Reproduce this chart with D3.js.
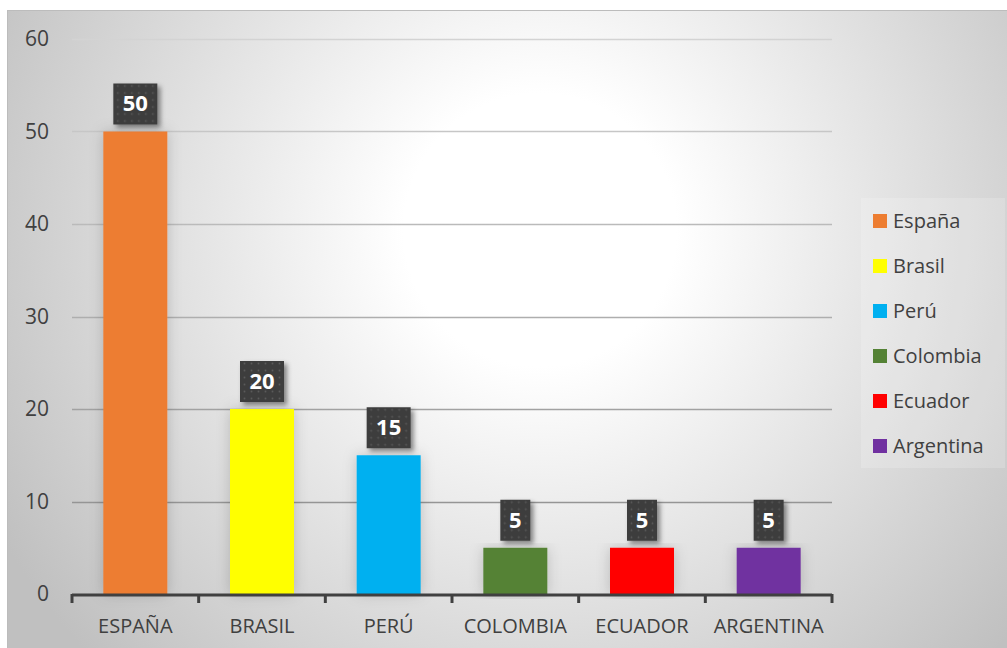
<!DOCTYPE html>
<html>
<head>
<meta charset="utf-8">
<script src="https://cdn.jsdelivr.net/npm/d3@7"></script>
<style>
  body { margin: 0; background: #fff; }
  svg { display: block; font-family: "Open Sans", sans-serif; }
</style>
</head>
<body>
<svg id="chart" width="1007" height="648"></svg>
<script>
// datos del grafico
var paises = ["ESPAÑA", "BRASIL", "PERÚ", "COLOMBIA", "ECUADOR", "ARGENTINA"];
var leyenda = ["España", "Brasil", "Perú", "Colombia", "Ecuador", "Argentina"];
var valores = [50, 20, 15, 5, 5, 5];
var colores = ["#ed7d31", "#ffff00", "#00b0f0", "#548235", "#ff0000", "#7030a0"];
var ticksY = [0, 10, 20, 30, 40, 50, 60];

var svg = d3.select("#chart");
var defs = svg.append("defs");

// fondo con degradado radial
var rg = defs.append("radialGradient").attr("id", "fondo")
  .attr("gradientUnits", "userSpaceOnUse")
  .attr("cx", 540).attr("cy", 230).attr("r", 620);
rg.append("stop").attr("offset", "0").attr("stop-color", "#ffffff");
rg.append("stop").attr("offset", "0.22").attr("stop-color", "#ffffff");
rg.append("stop").attr("offset", "1").attr("stop-color", "#c0c0c0");

// lineas de cuadricula mas oscuras abajo
var lg = defs.append("linearGradient").attr("id", "grid")
  .attr("gradientUnits", "userSpaceOnUse")
  .attr("x1", 0).attr("y1", 30).attr("x2", 0).attr("y2", 600);
lg.append("stop").attr("offset", "0").attr("stop-color", "#d4d4d4");
lg.append("stop").attr("offset", "1").attr("stop-color", "#888888");

// patron de puntos para las etiquetas
var pat = defs.append("pattern").attr("id", "puntos")
  .attr("patternUnits", "userSpaceOnUse").attr("width", 7).attr("height", 7);
pat.append("rect").attr("width", 7).attr("height", 7).attr("fill", "#3d3d3d");
pat.append("circle").attr("cx", 3.5).attr("cy", 3.5).attr("r", 0.9).attr("fill", "#5a5a5a");

var sombra = defs.append("filter").attr("id", "sombra")
  .attr("x", "-30%").attr("y", "-30%").attr("width", "160%").attr("height", "160%");
sombra.append("feDropShadow").attr("dx", 3).attr("dy", 3).attr("stdDeviation", 2.5)
  .attr("flood-color", "#000").attr("flood-opacity", 0.45);

var brillo = defs.append("filter").attr("id", "brillo")
  .attr("x", "-40%").attr("y", "-10%").attr("width", "180%").attr("height", "120%");
brillo.append("feDropShadow").attr("dx", 0).attr("dy", 0).attr("stdDeviation", 7)
  .attr("flood-color", "#000").attr("flood-opacity", 0.18);

svg.append("rect")
  .attr("x", 7.5).attr("y", 10.5).attr("width", 1000).attr("height", 638)
  .attr("fill", "url(#fondo)").attr("stroke", "#bcbcbc").attr("stroke-width", 1);

var margen = { left: 72, right: 832, top: 39, bottom: 594 };

var x = d3.scaleBand().domain(paises).range([margen.left, margen.right]).paddingInner(0).paddingOuter(0);
var y = d3.scaleLinear().domain([0, 60]).range([margen.bottom, margen.top]);

// cuadricula
svg.append("g").selectAll("line").data(ticksY.filter(function(d){ return d > 0; }))
  .enter().append("line")
  .attr("x1", margen.left).attr("x2", margen.right)
  .attr("y1", function(d){ return Math.round(y(d)) + 0.5; })
  .attr("y2", function(d){ return Math.round(y(d)) + 0.5; })
  .attr("stroke", "url(#grid)").attr("stroke-width", 1.5);

// eje Y
var ejeY = svg.append("g").attr("transform", "translate(" + margen.left + ",0)")
  .call(d3.axisLeft(y).tickValues(ticksY).tickSize(0).tickPadding(23));
ejeY.select(".domain").remove();
ejeY.selectAll("text").attr("font-size", 21).attr("fill", "#404040")
  .attr("font-family", "Open Sans, sans-serif");

// barras
var barW = 64;
svg.append("g").selectAll("rect").data(valores).enter().append("rect")
  .attr("x", function(d, i){ return x(paises[i]) + x.bandwidth() / 2 - barW / 2; })
  .attr("y", function(d){ return y(d); })
  .attr("width", barW)
  .attr("height", function(d){ return y(0) - y(d); })
  .attr("fill", function(d, i){ return colores[i]; })
  .attr("filter", "url(#brillo)");

// eje X
var ejeX = svg.append("g").attr("transform", "translate(0," + margen.bottom + ")")
  .call(d3.axisBottom(x).tickSize(0).tickPadding(25));
ejeX.select(".domain").remove();
ejeX.selectAll("text").attr("font-size", 20).attr("fill", "#404040")
  .attr("font-family", "Open Sans, sans-serif");
svg.append("line").attr("x1", margen.left).attr("x2", margen.right)
  .attr("y1", margen.bottom + 1).attr("y2", margen.bottom + 1)
  .attr("stroke", "#404040").attr("stroke-width", 3);
var bordes = paises.map(function(p){ return x(p); }).concat([margen.right]);
svg.append("g").selectAll("line").data(bordes).enter().append("line")
  .attr("x1", function(d){ return d; }).attr("x2", function(d){ return d; })
  .attr("y1", margen.bottom).attr("y2", margen.bottom + 9)
  .attr("stroke", "#404040").attr("stroke-width", 3);

// etiquetas de datos
var etiquetas = svg.append("g").selectAll("g").data(valores).enter().append("g")
  .attr("transform", function(d, i){
    return "translate(" + (x(paises[i]) + x.bandwidth() / 2) + "," + (y(d) - 28) + ")";
  });
etiquetas.append("rect")
  .attr("x", function(d){ return String(d).length > 1 ? -22 : -15; })
  .attr("y", -20)
  .attr("width", function(d){ return String(d).length > 1 ? 44 : 30; })
  .attr("height", 41)
  .attr("fill", "url(#puntos)")
  .attr("filter", "url(#sombra)");
etiquetas.append("text")
  .attr("text-anchor", "middle").attr("dy", "0.36em")
  .attr("font-size", 22).attr("font-weight", "bold").attr("fill", "#ffffff")
  .text(function(d){ return d; });

// leyenda
svg.append("rect").attr("x", 861).attr("y", 198).attr("width", 144).attr("height", 270)
  .attr("fill", "#ffffff").attr("fill-opacity", 0.18);
var ley = svg.append("g").selectAll("g").data(leyenda).enter().append("g")
  .attr("transform", function(d, i){ return "translate(873," + (221 + i * 45) + ")"; });
ley.append("rect").attr("x", 0).attr("y", -7).attr("width", 14).attr("height", 14)
  .attr("fill", function(d, i){ return colores[i]; });
ley.append("text").attr("x", 20).attr("dy", "0.36em")
  .attr("font-size", 20).attr("fill", "#404040")
  .text(function(d){ return d; });
</script>
</body>
</html>
